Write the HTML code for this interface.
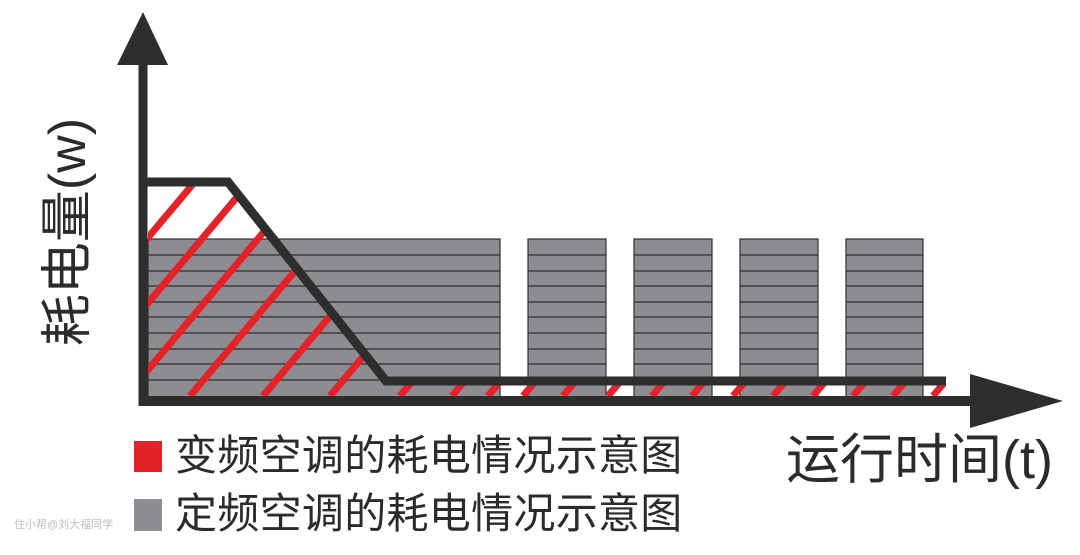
<!DOCTYPE html>
<html><head><meta charset="utf-8"><style>
html,body{margin:0;padding:0;background:#fff;}
body{width:1080px;height:555px;position:relative;overflow:hidden;font-family:"Liberation Sans","Noto Sans CJK SC",sans-serif;}
.t{position:absolute;white-space:nowrap;color:#2b2b2b;line-height:1;}
</style></head><body>
<svg width="1080" height="555" style="position:absolute;left:0;top:0">
<defs>
<clipPath id="c"><polygon points="148,186 228,186 386,385 946,385 946,396 148,396"/></clipPath>
</defs>
<g fill="#8e8c90" stroke="#2e2e2e" stroke-width="1.2">
<rect x="148" y="239" width="352" height="158"/>
<rect x="528" y="239" width="78" height="158"/>
<rect x="634" y="239" width="78" height="158"/>
<rect x="740" y="239" width="78" height="158"/>
<rect x="846" y="239" width="77" height="158"/>
</g>
<g stroke="#2e2e2e" stroke-width="1.3">
<path d="M148 255H500M148 271H500M148 286H500M148 302H500M148 317H500M148 333H500M148 349H500M148 364H500M148 380H500"/>
<path d="M528 255H606M528 271H606M528 286H606M528 302H606M528 317H606M528 333H606M528 349H606M528 364H606M528 380H606"/>
<path d="M634 255H712M634 271H712M634 286H712M634 302H712M634 317H712M634 333H712M634 349H712M634 364H712M634 380H712"/>
<path d="M740 255H818M740 271H818M740 286H818M740 302H818M740 317H818M740 333H818M740 349H818M740 364H818M740 380H818"/>
<path d="M846 255H923M846 271H923M846 286H923M846 302H923M846 317H923M846 333H923M846 349H923M846 364H923M846 380H923"/>
</g>
<g clip-path="url(#c)" stroke="#e3222a" stroke-width="7">
<line x1="15" y1="396" x2="245" y2="122"/>
<line x1="70" y1="396" x2="300" y2="122"/>
<line x1="126" y1="396" x2="356" y2="122"/>
<line x1="190" y1="396" x2="420" y2="122"/>
<line x1="263" y1="396" x2="493" y2="122"/>
<line x1="330" y1="396" x2="560" y2="122"/>
<line x1="400" y1="396" x2="630" y2="122"/>
<line x1="452" y1="396" x2="682" y2="122"/>
<line x1="488" y1="396" x2="718" y2="122"/>
<line x1="523" y1="396" x2="753" y2="122"/>
<line x1="563" y1="396" x2="793" y2="122"/>
<line x1="608" y1="396" x2="838" y2="122"/>
<line x1="652" y1="396" x2="882" y2="122"/>
<line x1="692" y1="396" x2="922" y2="122"/>
<line x1="733" y1="396" x2="963" y2="122"/>
<line x1="773" y1="396" x2="1003" y2="122"/>
<line x1="813" y1="396" x2="1043" y2="122"/>
<line x1="853" y1="396" x2="1083" y2="122"/>
<line x1="893" y1="396" x2="1123" y2="122"/>
<line x1="933" y1="396" x2="1163" y2="122"/>
</g>
<polyline points="143,182 228,182 386,381 946,381" fill="none" stroke="#2e2e2e" stroke-width="9" stroke-linejoin="miter"/>
<line x1="143" y1="60" x2="143" y2="406" stroke="#2e2e2e" stroke-width="9"/>
<line x1="139" y1="401" x2="975" y2="401" stroke="#2e2e2e" stroke-width="10"/>
<polygon points="143,12 117,65 168,65" fill="#2e2e2e"/>
<polygon points="970,374 1063,401 970,428" fill="#2e2e2e"/>
<rect x="134" y="441" width="28" height="31" fill="#e3222a"/>
<rect x="134" y="499" width="28" height="32" fill="#8e8c90"/>
</svg>
<div class="t" style="left:68px;top:232px;font-size:52px;transform:translate(-50%,-50%) rotate(-90deg);transform-origin:center;">耗电量(w)</div>
<div class="t" style="left:175px;top:435px;font-size:42px;letter-spacing:0.3px;">变频空调的耗电情况示意图</div>
<div class="t" style="left:175px;top:493px;font-size:42px;letter-spacing:0.3px;">定频空调的耗电情况示意图</div>
<div class="t" style="left:786px;top:433px;font-size:54px;">运行时间(t)</div>
<div class="t" style="left:14px;top:520px;font-size:11px;color:#bdbdbd;">住小帮@刘大福同学</div>
</body></html>
